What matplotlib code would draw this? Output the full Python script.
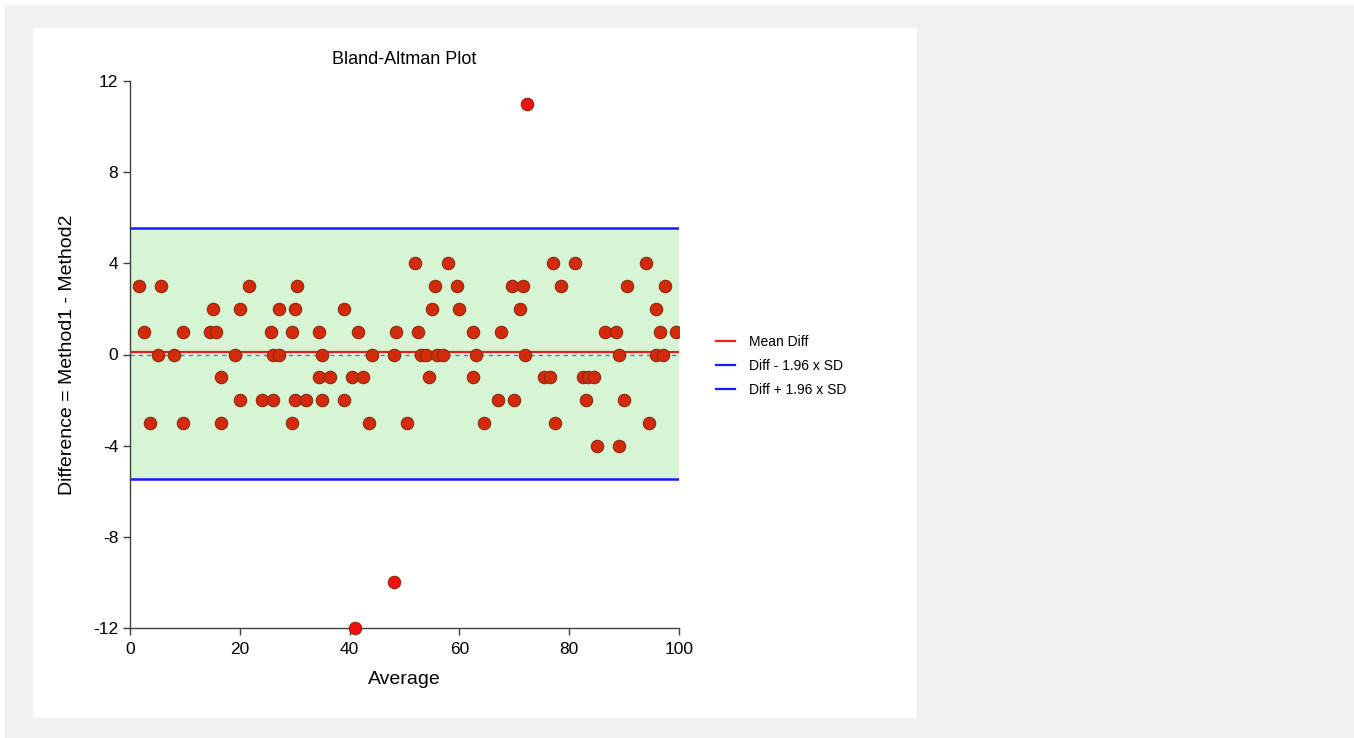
import matplotlib
matplotlib.use("Agg")
import matplotlib.pyplot as plt
from matplotlib.lines import Line2D

plt.rcParams["font.family"] = ["Liberation Sans", "DejaVu Sans"]
plt.rcParams["axes.unicode_minus"] = False

# ---- data ----
x_avg = [1.6, 5.6, 21.6, 30.5, 55.5, 59.5, 69.5, 71.5, 78.5, 90.5, 97.5,
         52.0, 58.0, 77.0, 81.0, 94.0,
         15.1, 20.0, 27.1, 30.0, 39.0, 55.0, 60.0, 71.0, 95.9,
         2.5, 9.6, 14.5, 15.6, 25.6, 29.5, 34.5, 41.5, 48.5, 52.5, 62.5, 67.5, 86.5, 88.5, 96.5, 99.5,
         5.1, 8.1, 19.1, 26.0, 27.1, 35.0, 44.0, 48.0, 53.0, 54.0, 55.9, 57.1, 63.0, 72.0, 89.0, 95.9, 97.0,
         16.6, 34.5, 36.5, 40.5, 42.5, 54.5, 62.5, 75.5, 76.5, 82.5, 83.5, 84.5,
         20.1, 24.0, 26.0, 30.0, 32.1, 35.0, 39.0, 67.0, 70.0, 83.0, 89.9,
         3.6, 9.6, 16.6, 29.5, 43.5, 50.5, 64.5, 77.5, 94.5,
         85.0, 89.0]
y_diff = [3]*11 + [4]*5 + [2]*9 + [1]*16 + [0]*17 + [-1]*12 + [-2]*11 + [-3]*9 + [-4]*2

out_x = [72.4, 48.1, 41.0]
out_y = [11, -10, -12]

mean_diff = 0.1
lower_loa = -5.45
upper_loa = 5.55

xticks = [0, 20, 40, 60, 80, 100]
yticks = [-12, -8, -4, 0, 4, 8, 12]

W, H = 1354, 738
fig = plt.figure(figsize=(W/100, H/100), dpi=100)
fig.patch.set_facecolor("white")
# grey background (with thin white border at top/left)
bg = plt.Rectangle((5/W, 0), (W-5)/W, (H-5)/H, transform=fig.transFigure,
                   facecolor="#f0f0f0", edgecolor="none", zorder=-10)
fig.patches.append(bg)
# white panel
panel = plt.Rectangle((33/W, 1-718/H), (917-33)/W, (718-28)/H,
                      transform=fig.transFigure, facecolor="white", edgecolor="none", zorder=-5)
fig.patches.append(panel)

ax = fig.add_axes([130/W, 1-628/H, (679-130)/W, (628-81)/H])
ax.set_zorder(2)
ax.set_facecolor("none")
ax.set_xlim(0, 100)
ax.set_ylim(-12, 12)

ax.axhspan(lower_loa, upper_loa, facecolor="#d5f5d5", edgecolor="none", zorder=1)
ax.axhline(0, color="#8c6a9a", lw=1, ls=(0, (3, 3)), zorder=2)
ax.axhline(mean_diff, color="#e02020", lw=1.6, zorder=3)
ax.axhline(lower_loa, color="#1a1aff", lw=1.8, zorder=3)
ax.axhline(upper_loa, color="#1a1aff", lw=1.8, zorder=3)

ax.scatter(x_avg, y_diff, s=80, facecolor="#d42a0c", edgecolor="#8a2c12", linewidths=0.8, zorder=4)
ax.scatter(out_x, out_y, s=80, facecolor="#f50f0f", edgecolor="#8a2c12", linewidths=0.8, zorder=4,
           clip_on=False)

for s in ["top", "right"]:
    ax.spines[s].set_visible(False)
for s in ["left", "bottom"]:
    ax.spines[s].set_color("#404040")
    ax.spines[s].set_linewidth(1.0)

ax.set_xticks(xticks)
ax.set_yticks(yticks)
ax.tick_params(direction="out", length=5, width=1, colors="#404040", labelcolor="black",
               labelsize=12.5)
ax.tick_params(axis="x", pad=5)

ax.set_title("Bland-Altman Plot", fontsize=13, pad=12)
ax.set_xlabel("Average", fontsize=14, labelpad=10)
ax.set_ylabel("Difference = Method1 - Method2", fontsize=14, labelpad=12)

handles = [Line2D([], [], color="#ff1a1a", lw=1.6),
           Line2D([], [], color="#1a1aff", lw=1.6),
           Line2D([], [], color="#1a1aff", lw=1.6)]
labels = ["Mean Diff", "Diff - 1.96 x SD", "Diff + 1.96 x SD"]
fig.legend(handles, labels, loc="upper left", bbox_to_anchor=(703/W, 1-322/H),
           frameon=False, fontsize=10, handlelength=1.4, labelspacing=0.75, handletextpad=1.0)

fig.savefig("out.png", dpi=100, facecolor=fig.get_facecolor())
